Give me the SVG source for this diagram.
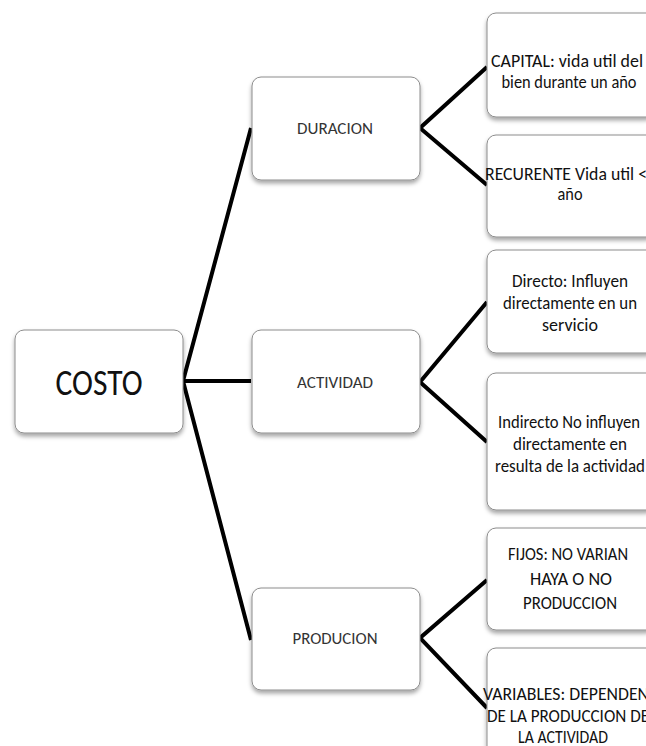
<svg xmlns="http://www.w3.org/2000/svg" width="646" height="746" viewBox="0 0 646 746">
<defs>
<filter id="sh" x="-10%" y="-10%" width="130%" height="140%">
<feDropShadow dx="0" dy="3" stdDeviation="2" flood-color="#000" flood-opacity="0.35"/>
</filter>
<style>
.box{fill:#fff;stroke:#8c8c8c;stroke-width:1;filter:url(#sh)}
.con{stroke:#000;stroke-width:4;fill:none;stroke-linejoin:miter;stroke-linecap:butt}
text{font-family:Carlito,Lato,"Liberation Sans",sans-serif;text-anchor:middle}
.mid{font-size:17px;fill:#333}
.leaf{font-size:18px;fill:#111}
.root{font-size:36px;fill:#111}
</style>
</defs>
<rect width="646" height="746" fill="#fff"/>
<g id="connectors">
<path class="con" d="M251,128 L183,381 L251,640 M183,381 L251,381"/>
<path class="con" d="M487,67 L420,128 L487,185"/>
<path class="con" d="M487,302 L420,382 L487,442"/>
<path class="con" d="M487,580 L420,638 L487,708"/>
</g>
<g id="costo">
<rect class="box" x="15" y="330" width="168" height="103" rx="9"/>
<text class="root" x="99" y="395" textLength="87" lengthAdjust="spacingAndGlyphs">COSTO</text>
</g>
<g id="duracion">
<rect class="box" x="252" y="77" width="168" height="103" rx="9"/>
<text class="mid" x="335" y="134" textLength="76" lengthAdjust="spacingAndGlyphs">DURACION</text>
</g>
<g id="actividad">
<rect class="box" x="252" y="330" width="168" height="103" rx="9"/>
<text class="mid" x="335" y="388" textLength="76" lengthAdjust="spacingAndGlyphs">ACTIVIDAD</text>
</g>
<g id="producion">
<rect class="box" x="252" y="588" width="168" height="102" rx="9"/>
<text class="mid" x="335" y="644" textLength="85" lengthAdjust="spacingAndGlyphs">PRODUCION</text>
</g>
<g id="capital">
<rect class="box" x="487" y="13" width="168" height="104" rx="9"/>
<text class="leaf" x="567" y="67" textLength="152" lengthAdjust="spacingAndGlyphs">CAPITAL: vida util del</text>
<text class="leaf" x="569" y="88" textLength="135" lengthAdjust="spacingAndGlyphs">bien durante un año</text>
</g>
<g id="recurente">
<rect class="box" x="487" y="135" width="168" height="102" rx="9"/>
<text class="leaf" x="566" y="180" textLength="162" lengthAdjust="spacingAndGlyphs">RECURENTE Vida util &lt;</text>
<text class="leaf" x="570" y="200" textLength="25" lengthAdjust="spacingAndGlyphs">año</text>
</g>
<g id="directo">
<rect class="box" x="487" y="250" width="168" height="103" rx="9"/>
<text class="leaf" x="570" y="287" textLength="116" lengthAdjust="spacingAndGlyphs">Directo: Influyen</text>
<text class="leaf" x="570" y="309" textLength="134" lengthAdjust="spacingAndGlyphs">directamente en un</text>
<text class="leaf" x="570" y="331" textLength="56" lengthAdjust="spacingAndGlyphs">servicio</text>
</g>
<g id="indirecto">
<rect class="box" x="487" y="373" width="168" height="137" rx="9"/>
<text class="leaf" x="569" y="428" textLength="142" lengthAdjust="spacingAndGlyphs">Indirecto No influyen</text>
<text class="leaf" x="570" y="450" textLength="114" lengthAdjust="spacingAndGlyphs">directamente en</text>
<text class="leaf" x="570" y="472" textLength="150" lengthAdjust="spacingAndGlyphs">resulta de la actividad</text>
</g>
<g id="fijos">
<rect class="box" x="487" y="528" width="168" height="102" rx="9"/>
<text class="leaf" x="568" y="560" textLength="120" lengthAdjust="spacingAndGlyphs">FIJOS: NO VARIAN</text>
<text class="leaf" x="571" y="585" textLength="82" lengthAdjust="spacingAndGlyphs">HAYA O NO</text>
<text class="leaf" x="570" y="609" textLength="94" lengthAdjust="spacingAndGlyphs">PRODUCCION</text>
</g>
<g id="variables">
<rect class="box" x="487" y="648" width="168" height="112" rx="9"/>
<text class="leaf" x="566" y="700" textLength="166" lengthAdjust="spacingAndGlyphs">VARIABLES: DEPENDEN</text>
<text class="leaf" x="568" y="722" textLength="162" lengthAdjust="spacingAndGlyphs">DE LA PRODUCCION DE</text>
<text class="leaf" x="563" y="743" textLength="90" lengthAdjust="spacingAndGlyphs">LA ACTIVIDAD</text>
</g>
</svg>
